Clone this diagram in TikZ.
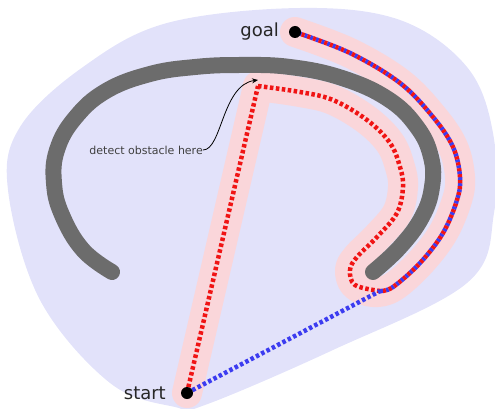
\documentclass[tikz,border=0pt]{standalone}
\usepackage{fontspec}
\setmainfont{DejaVu Sans}
\usetikzlibrary{arrows.meta}
\definecolor{lav}{RGB}{226,226,250}
\definecolor{pinkband}{RGB}{250,214,218}
\definecolor{obst}{RGB}{108,108,108}
\definecolor{redp}{RGB}{240,20,20}
\definecolor{bluep}{RGB}{60,60,240}
\tikzset{
  band/.style={line width=30pt, pinkband, line cap=round, line join=round},
  obstacle/.style={line width=16pt, obst, line cap=round},
  dotline/.style={line width=4.5pt, dash pattern=on 3.5pt off 2.5pt},
  mixline/.style={line width=4.5pt, dash pattern=on 3pt off 3pt},
  enddot/.style={circle, fill=black, inner sep=0pt, minimum size=12pt},
  biglabel/.style={font=\fontsize{18}{20}\selectfont, text=black!85, inner sep=0pt},
  smalllabel/.style={font=\fontsize{11}{12}\selectfont, text=black!75, inner sep=0pt}
}
\begin{document}
\begin{tikzpicture}[x=1pt,y=-1pt]
\useasboundingbox (0,0) rectangle (495,409);
% free space
\fill[lav] plot[smooth cycle, tension=0.6] coordinates {(300,8) (400,20) (467,67) (493,133) (494,213) (467,283) (333,350) (205,405) (175,407) (110,383) (40,300) (8,190) (20,127) (83,67) (167,23)};
% coordinates
\coordinate (s) at (187,393);
\coordinate (g) at (295,32);
\coordinate (corner) at (258,86);
\coordinate (join) at (380,291);
% pink band along red path
\draw[band] (s) -- (corner) plot[smooth, tension=0.6] coordinates {(corner) (300,92) (333,100) (367,120) (390,143) (400,167) (403,187) (397,213) (377,237) (357,257) (350,270) (355,285) (373,292) (393,287) (420,263) (443,233) (457,200) (460,177) (453,147) (433,117) (400,83) (350,53) (g)};
% obstacle
\draw[obstacle] plot[smooth, tension=0.7] coordinates {(112,272) (83,250) (62,215) (54,183) (57,150) (75,118) (106,91) (150,74) (195,67) (240,65) (290,67) (342,78) (388,99) (417,127) (431,157) (432,187) (422,217) (400,247) (373,272)};
% red path, own part
\draw[dotline, redp] (s) -- (corner) plot[smooth, tension=0.6] coordinates {(corner) (300,92) (333,100) (367,120) (390,143) (400,167) (403,187) (397,213) (377,237) (357,257) (350,270) (355,285) (join)};
% blue path, own part
\draw[dotline, bluep] (s) -- (join);
% shared part
\draw[mixline, bluep] plot[smooth, tension=0.6] coordinates {(join) (393,287) (420,263) (443,233) (457,200) (460,177) (453,147) (433,117) (400,83) (350,53) (g)};
\draw[mixline, redp, dash phase=3pt] plot[smooth, tension=0.6] coordinates {(join) (393,287) (420,263) (443,233) (457,200) (460,177) (453,147) (433,117) (400,83) (350,53) (g)};
% end points
\node[enddot] (start) at (s) {};
\node[enddot] (goal) at (g) {};
\node[biglabel, anchor=east] (startlabel) at (166,393) {start};
\node[biglabel, anchor=east] (goallabel) at (279,32) {goal};
% annotation
\node[smalllabel, anchor=east] (detect) at (203,150) {detect obstacle here};
\coordinate (hit) at (258,80);
\draw[-{Stealth[length=6pt,width=5pt]}, line width=0.8pt] (detect.east) .. controls (222,150) and (222,85) .. (hit);
\end{tikzpicture}
\end{document}
